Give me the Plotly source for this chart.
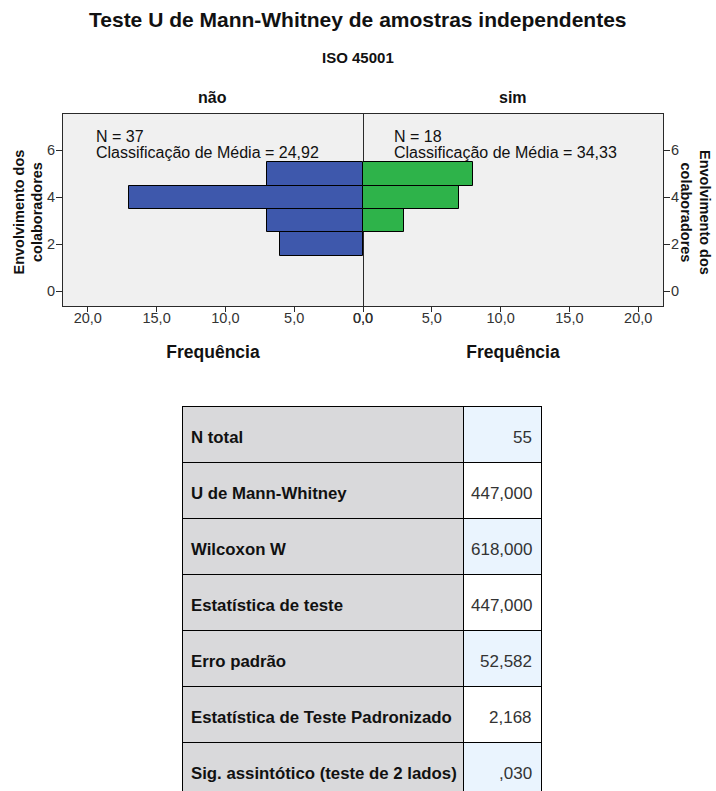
import plotly.graph_objects as go
from plotly.subplots import make_subplots

# Histogram counts per level of "Envolvimento dos colaboradores"
levels = [2, 3, 4, 5]
freq_nao = [6, 7, 17, 7]
freq_sim = [0, 3, 7, 8]

group_names = ["não", "sim"]
group_n = [37, 18]
group_mean_rank = ["24,92", "34,33"]

# Summary table of the test
stat_labels = [
    "N total",
    "U de Mann-Whitney",
    "Wilcoxon W",
    "Estatística de teste",
    "Erro padrão",
    "Estatística de Teste Padronizado",
    "Sig. assintótico (teste de 2 lados)",
]
stat_values = ["55", "447,000", "618,000", "447,000", "52,582", "2,168", ",030"]

W, H = 716, 791
FONT = "Liberation Sans, Arial, sans-serif"
BLUE = "#3E58AC"
GREEN = "#2EB34A"
AXIS = "#2a2a2a"
TICK_TXT = "#333333"
TXT = "#111111"


def px(x):
    return x / W


def py(y):
    return 1 - y / H


fig = make_subplots(rows=1, cols=2, horizontal_spacing=0)

fig.add_trace(
    go.Bar(
        x=freq_nao, y=levels, orientation="h", width=1,
        marker=dict(color=BLUE, line=dict(color="black", width=1)),
        showlegend=False, hoverinfo="x+y",
    ),
    row=1, col=1,
)
fig.add_trace(
    go.Bar(
        x=freq_sim, y=levels, orientation="h", width=1,
        marker=dict(color=GREEN, line=dict(color="black", width=1)),
        showlegend=False, hoverinfo="x+y",
    ),
    row=1, col=2,
)

plot_top, plot_bottom = 114, 306
left_l, mid, right_r = 63, 363, 663
xmax = 21.8
yrange = [-0.64, 7.55]
xticks = [0, 5, 10, 15, 20]

common_x = dict(
    tickvals=xticks, tickformat=".1f", ticks="outside", ticklen=5,
    tickcolor=AXIS, showline=True, linecolor=AXIS, linewidth=1, mirror=True,
    showgrid=False, zeroline=False, automargin=False, ticklabelstandoff=-6,
    tickfont=dict(family=FONT, size=14.5, color=TICK_TXT),
    title=dict(text="<b>Frequência</b>", standoff=20,
               font=dict(family=FONT, size=17.5, color=TXT)),
)
common_y = dict(
    range=yrange, tickvals=[0, 2, 4, 6], ticks="outside", ticklen=6,
    tickcolor=AXIS, showline=True, linecolor=AXIS, linewidth=1,
    showgrid=False, zeroline=False, automargin=False, ticklabelstandoff=-2,
    tickfont=dict(family=FONT, size=14.5, color=TICK_TXT),
)

fig.update_xaxes(range=[xmax, 0], domain=[px(left_l), px(mid)], row=1, col=1, **common_x)
fig.update_xaxes(range=[0, xmax], domain=[px(mid), px(right_r)], row=1, col=2, **common_x)
# the left panel's mirrored line doubles as the centre divider
fig.update_yaxes(domain=[py(plot_bottom), py(plot_top)], side="left", mirror=True,
                 row=1, col=1, **common_y)
fig.update_yaxes(domain=[py(plot_bottom), py(plot_top)], side="right", mirror=False,
                 row=1, col=2, **common_y)

annotations = []
# Panel titles
for cx, name in zip([(left_l + mid) / 2, (mid + right_r) / 2], group_names):
    annotations.append(dict(
        x=px(cx), y=py(98), xref="paper", yref="paper", text=f"<b>{name}</b>",
        showarrow=False, xanchor="center", yanchor="middle",
        font=dict(family=FONT, size=16, color=TXT),
    ))
# Group summaries inside each panel
for x0, n, mr in zip([95, 393], group_n, group_mean_rank):
    annotations.append(dict(
        x=px(x0), y=py(136.5), xref="paper", yref="paper", text=f"N = {n}",
        showarrow=False, xanchor="left", yanchor="middle", borderpad=0,
        font=dict(family=FONT, size=16, color=TXT),
    ))
    annotations.append(dict(
        x=px(x0), y=py(152.5), xref="paper", yref="paper",
        text=f"Classificação de Média = {mr}",
        showarrow=False, xanchor="left", yanchor="middle", borderpad=0,
        font=dict(family=FONT, size=16, color=TXT),
    ))
# Y-axis titles on both sides
ytitle = "<b>Envolvimento dos<br>colaboradores</b>"
annotations.append(dict(
    x=px(27.5), y=py(212), xref="paper", yref="paper", text=ytitle,
    showarrow=False, textangle=-90, xanchor="center", yanchor="middle",
    font=dict(family=FONT, size=14.5, color=TXT),
))
annotations.append(dict(
    x=px(696), y=py(212), xref="paper", yref="paper", text=ytitle,
    showarrow=False, textangle=90, xanchor="center", yanchor="middle",
    font=dict(family=FONT, size=14.5, color=TXT),
))
# Headings
annotations.append(dict(
    x=0.5, y=py(19), xref="paper", yref="paper",
    text="<b>Teste U de Mann-Whitney de amostras independentes</b>",
    showarrow=False, xanchor="center", yanchor="middle",
    font=dict(family=FONT, size=21, color=TXT),
))
annotations.append(dict(
    x=0.5, y=py(58), xref="paper", yref="paper", text="<b>ISO 45001</b>",
    showarrow=False, xanchor="center", yanchor="middle",
    font=dict(family=FONT, size=15, color=TXT),
))

# Statistics table: the table draws fills and rules, annotations carry the
# text so it sits vertically centred in each row
LABEL_BG = "#D9D9DB"
BLUE_BG = "#EAF4FE"
row_h = 56
table_top, table_left, table_right = 406, 182, 541
col_split = 463
n_rows = len(stat_labels)
val_fill = [BLUE_BG if i % 2 == 0 else "white" for i in range(n_rows)]

fig.add_trace(go.Table(
    domain=dict(x=[px(table_left), px(table_right)], y=[0, py(table_top)]),
    columnwidth=[col_split - table_left, table_right - col_split],
    header=dict(
        values=["", ""], height=row_h,
        fill=dict(color=[LABEL_BG, val_fill[0]]),
        line=dict(color="black", width=1),
    ),
    cells=dict(
        values=[[""] * (n_rows - 1), [""] * (n_rows - 1)], height=row_h,
        fill=dict(color=[[LABEL_BG] * (n_rows - 1), val_fill[1:]]),
        line=dict(color="black", width=1),
    ),
))

for i, (lab, val) in enumerate(zip(stat_labels, stat_values)):
    yc = table_top + row_h * i + row_h / 2 + 3
    annotations.append(dict(
        x=px(table_left + 8), y=py(yc), xref="paper", yref="paper",
        text=f"<b>{lab}</b>", showarrow=False, xanchor="left", yanchor="middle",
        borderpad=0, font=dict(family=FONT, size=16.8, color=TXT),
    ))
    annotations.append(dict(
        x=px(table_right - 8), y=py(yc), xref="paper", yref="paper",
        text=val, showarrow=False, xanchor="right", yanchor="middle",
        borderpad=0, font=dict(family=FONT, size=17, color="#333"),
    ))

fig.update_layout(
    width=W, height=H,
    margin=dict(l=0, r=0, t=0, b=0),
    paper_bgcolor="white",
    plot_bgcolor="#F0F0F0",
    separators=",.",
    bargap=0,
    annotations=annotations,
    font=dict(family=FONT),
)

fig.write_html("out.html")
